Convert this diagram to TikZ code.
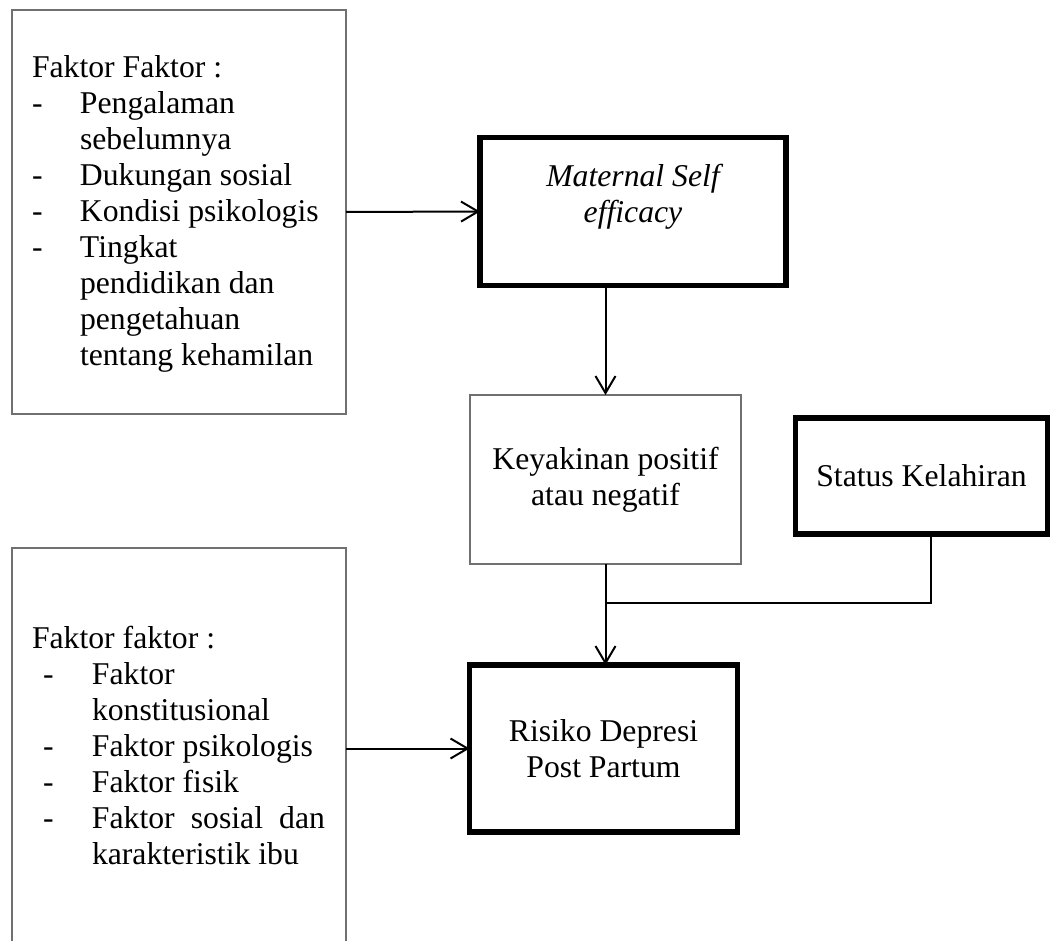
\documentclass[tikz,border=0pt]{standalone}
\usepackage{fontspec}
\setmainfont{Liberation Serif}
\usetikzlibrary{arrows.meta}
\definecolor{thingray}{HTML}{707070}
\tikzset{
  x=1pt, y=-1pt,
  every node/.style={font=\fontsize{31.7}{36}\selectfont, inner sep=0pt, outer sep=0pt},
  thinbox/.style={draw=thingray, line width=1.3pt, rectangle},
  thickbox/.style={draw=black, line width=5.2pt, rectangle, align=center},
  conn/.style={draw=black, line width=2pt},
  arr/.style={conn, -{Straight Barb[length=17pt,width=20pt,line width=2pt]}},
  listtext/.style={align=left, anchor=north west},
}
\begin{document}
\begin{tikzpicture}
\useasboundingbox (0,0) rectangle (1051,941);

% boxes
\node[thinbox, minimum width=334pt, minimum height=404pt] (f1) at (179,212) {};
\node[rectangle, minimum width=334pt, minimum height=393pt] (f2) at (179,744.5) {};
\draw[draw=thingray, line width=1.3pt] (f2.south west) -- (f2.north west) -- (f2.north east) -- (f2.south east);

\node[thickbox, minimum width=306pt, minimum height=148pt] (mse) at (633,211.5) {};
\node[thinbox, align=center, minimum width=271pt, minimum height=169pt] (kp) at (605.5,479.5) {Keyakinan positif\\atau negatif};
\node[thickbox, minimum width=252pt, minimum height=116pt] (sk) at (921.5,476) {Status Kelahiran};
\node[thickbox, minimum width=268pt, minimum height=167pt] (rd) at (603.5,748.5) {Risiko Depresi\\Post Partum};

% texts
\node[align=center, anchor=north] (msetext) at (633,164) {\itshape Maternal Self\\\itshape efficacy};

\node[listtext] (t1) at (32,55.5) {Faktor Faktor :\\
\makebox[48pt][l]{-}Pengalaman\\
\hspace*{48pt}sebelumnya\\
\makebox[48pt][l]{-}Dukungan sosial\\
\makebox[48pt][l]{-}Kondisi psikologis\\
\makebox[48pt][l]{-}Tingkat\\
\hspace*{48pt}pendidikan dan\\
\hspace*{48pt}pengetahuan\\
\hspace*{48pt}tentang kehamilan};

\node[listtext] (t2) at (32,626.5) {Faktor faktor :\\
\hspace*{11pt}\makebox[49pt][l]{-}Faktor\\
\hspace*{60pt}konstitusional\\
\hspace*{11pt}\makebox[49pt][l]{-}Faktor psikologis\\
\hspace*{11pt}\makebox[49pt][l]{-}Faktor fisik\\
\hspace*{11pt}\makebox[49pt][l]{-}\makebox[233pt][s]{Faktor\hfill sosial\hfill dan}\\
\hspace*{60pt}karakteristik ibu};

% connectors
\coordinate (sj) at (931,603);
\coordinate (jn) at (kp.south |- sj);
\draw[arr] (f1.east) -- (mse.west);
\draw[arr] (kp.north |- mse.south) -- (kp.north);
\draw[conn] (sj |- sk.south) -- (sj) -- (jn);
\draw[arr] (kp.south) -- (kp.south |- rd.north);
\draw[arr] (f2.east |- rd.west) -- (rd.west);
\end{tikzpicture}
\end{document}
